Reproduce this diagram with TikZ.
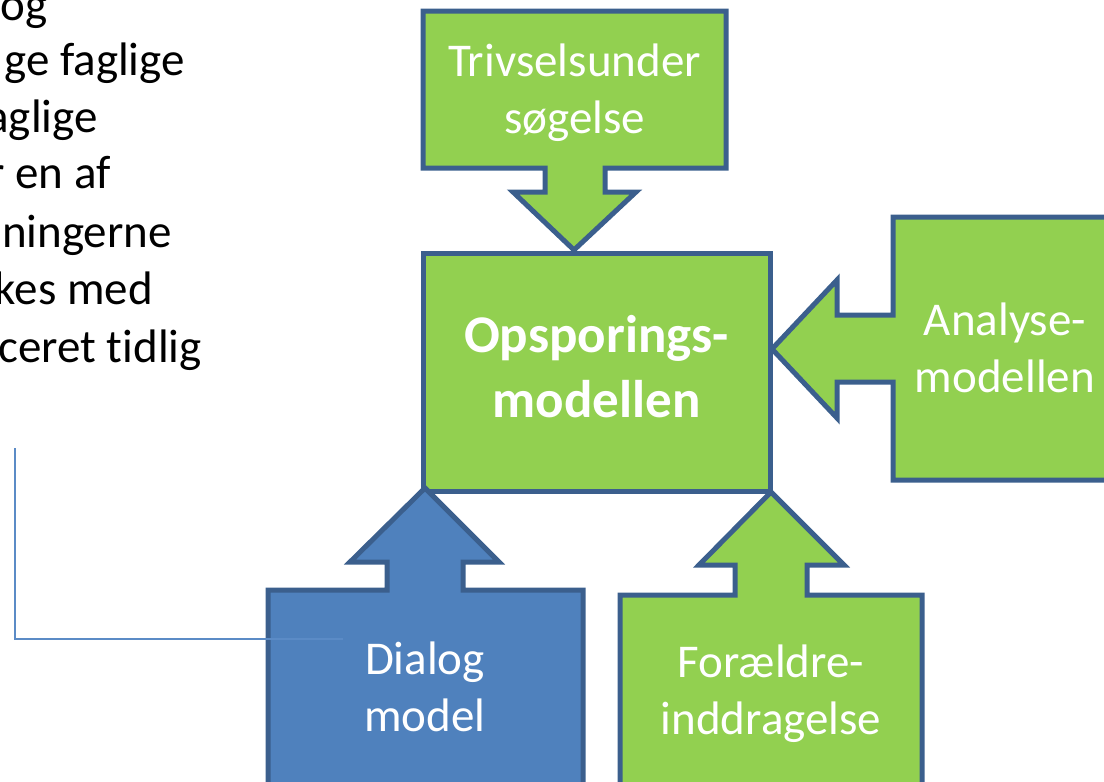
\documentclass[tikz,border=0pt]{standalone}
\usepackage{fontspec}
\setmainfont{Carlito}[Ligatures=NoCommon]
\definecolor{boxgreen}{HTML}{92D050}
\definecolor{boxblue}{HTML}{4F81BD}
\definecolor{boxline}{HTML}{3B5F8D}
\definecolor{noteline}{HTML}{5B8BC6}

\begin{document}
\begin{tikzpicture}[x=1pt,y=-1pt,
  callout/.style={draw=boxline, line width=5pt, fill=boxgreen},
  boxtext/.style={text=white, align=center, inner sep=0pt, font=\fontsize{47}{57}\selectfont},
  notetext/.style={anchor=base east, inner sep=0pt, font=\fontsize{47}{57}\selectfont}]

\useasboundingbox (0,0) rectangle (1104,782);

% cut off text on the left
\node [notetext] (note1) at (48,20) {og};
\node [notetext] (note2) at (185,75) {ge faglige};
\node [notetext] (note3) at (98,132) {aglige};
\node [notetext] (note4) at (111,188) {r en af};
\node [notetext] (note5) at (172,247) {ningerne};
\node [notetext] (note6) at (153,304) {kes med};
\node [notetext] (note7) at (202,362) {ceret tidlig};

% central box
\node [boxtext, draw=boxline, fill=boxgreen, line width=5pt, minimum width=347pt, minimum height=238pt,
  font=\bfseries\fontsize{53}{65}\selectfont] (opspor) at (596.5,372) {\strut Opsporings-\\\strut modellen};

% top
\draw [callout] (423,11) -- (726,11) -- (726,168) -- (605,168) -- (605,192) -- (636,192) -- (574,250)
  -- (513,192) -- (545,192) -- (545,168) -- (423,168) -- cycle;
\node [boxtext] (trivsel) at (574.5,93.5) {\strut Trivselsunder\\\strut søgelse};

% right
\draw [callout] (893,217) -- (1130,217) -- (1130,480) -- (893,480) -- (893,382) -- (837,382) -- (837,418)
  -- (772,349) -- (837,280) -- (837,315) -- (893,315) -- cycle;
\node [boxtext] (analyse) at (1005,352.5) {\strut Analyse-\\\strut modellen};

% bottom left
\draw [callout, fill=boxblue] (268,800) -- (268,590) -- (387,590) -- (387,562) -- (350,562) -- (425,488)
  -- (499,562) -- (463,562) -- (463,590) -- (583,590) -- (583,800) -- cycle;
\node [boxtext] (dialog) at (425,691.5) {\strut Dialog\\\strut model};

% bottom right
\draw [callout] (620,800) -- (620,595) -- (735,595) -- (735,565) -- (699,565) -- (771,492)
  -- (844,565) -- (807,565) -- (807,595) -- (922,595) -- (922,800) -- cycle;
\node [boxtext] (foraeldre) at (771,694.5) {\strut Forældre-\\\strut inddragelse};

% comment line
\coordinate (noteA) at (15,448);
\coordinate (noteB) at (343,639);
\draw [noteline, line width=1.5pt] (noteA) |- (noteB);

\end{tikzpicture}
\end{document}
